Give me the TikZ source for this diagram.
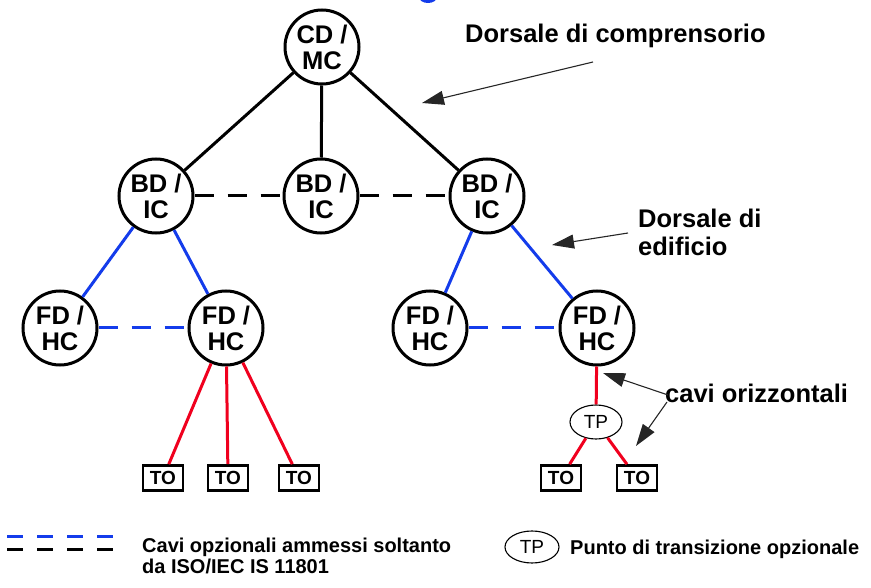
\documentclass[tikz,border=0pt]{standalone}
\usepackage{fontspec}
\setmainfont{Liberation Sans}
\usetikzlibrary{arrows.meta,shapes.geometric}
\definecolor{cblue}{RGB}{20,60,235}
\definecolor{cred}{RGB}{240,0,30}
\begin{document}
\begin{tikzpicture}[x=1pt,y=-1pt,
  bigtxt/.style={font=\fontsize{25.5}{26}\selectfont\bfseries},
  ndc/.style={circle,draw,line width=3pt,minimum size=74pt,inner sep=0pt,align=center,bigtxt},
  tobox/.style={rectangle,draw,line width=2.6pt,minimum width=40pt,minimum height=25pt,inner sep=0pt,font=\fontsize{19}{19}\selectfont\bfseries},
  tpell/.style={ellipse,draw,line width=1.1pt,minimum width=52pt,minimum height=34pt,inner sep=0pt,font=\fontsize{19}{19}\selectfont},
  bkline/.style={line width=3pt,black},
  blline/.style={line width=3pt,cblue},
  rdline/.style={line width=3pt,cred},
  dashpat/.style={dash pattern=on 19pt off 14pt},
  ann/.style={line width=1.1pt,black!85,-{Triangle[length=22pt,width=14pt]}},
  lbl/.style={inner sep=0pt,bigtxt},
  legtxt/.style={inner sep=0pt,font=\fontsize{20}{21}\selectfont\bfseries}
]
\useasboundingbox (0,0) rectangle (871,588);

% fragment of a title cut by the top edge
\fill[cblue] (428,-3) ellipse (9 and 6);

% nodes
\node[ndc] (cd) at (322,47) {CD /\\MC};
\node[ndc] (bd1) at (156,196) {BD /\\IC};
\node[ndc] (bd2) at (321,196) {BD /\\IC};
\node[ndc] (bd3) at (487,196) {BD /\\IC};
\node[ndc] (fd1) at (60,328) {FD /\\HC};
\node[ndc] (fd2) at (226,328) {FD /\\HC};
\node[ndc] (fd3) at (430,328) {FD /\\HC};
\node[ndc] (fd4) at (597,328) {FD /\\HC};
\node[tpell] (tp) at (596,422) {TP};
\node[tobox] (to1) at (163,478) {TO};
\node[tobox] (to2) at (228,478) {TO};
\node[tobox] (to3) at (299,478) {TO};
\node[tobox] (to4) at (561,478) {TO};
\node[tobox] (to5) at (637,478) {TO};

% campus backbone
\draw[bkline] (cd) -- (bd1);
\draw[bkline] (cd) -- (bd2);
\draw[bkline] (cd) -- (bd3);
\draw[bkline,dashpat] (bd1) -- (bd2);
\draw[bkline,dashpat] (bd2) -- (bd3);

% building backbone
\draw[blline] (bd1) -- (fd1);
\draw[blline] (bd1) -- (fd2);
\draw[blline] (bd3) -- (fd3);
\draw[blline] (bd3) -- (fd4);
\draw[blline,dashpat] (fd1) -- (fd2);
\draw[blline,dashpat] (fd3) -- (fd4);

% horizontal cables
\draw[rdline] (fd2) -- (to1);
\draw[rdline] (fd2) -- (to2);
\draw[rdline] (fd2) -- (to3);
\draw[rdline] (fd4) -- (tp);
\draw[rdline] (tp) -- (to4);
\draw[rdline] (tp) -- (to5);

% labels
\node[lbl,anchor=base west] (l1) at (465,43) {Dorsale di comprensorio};
\node[lbl,anchor=west,align=left,font=\fontsize{25.5}{28}\selectfont\bfseries] (l2) at (638,232) {Dorsale di\\edificio};
\node[lbl,anchor=base west] (l3) at (665,402) {cavi orizzontali};

% annotation arrows
\coordinate (a1s) at (593,62);
\coordinate (a1e) at (422,103);
\coordinate (a2s) at (628,233);
\coordinate (a2e) at (552,245);
\coordinate (a3s) at (668,395);
\coordinate (a3e) at (603,373);
\coordinate (a4s) at (667,402);
\coordinate (a4e) at (636,446);
\draw[ann] (a1s) -- (a1e);
\draw[ann] (a2s) -- (a2e);
\draw[ann] (a3s) -- (a3e);
\draw[ann] (a4s) -- (a4e);

% legend
\coordinate (lb1) at (7,536);
\coordinate (lb2) at (114,536);
\coordinate (lk1) at (7,549);
\coordinate (lk2) at (114,549);
\draw[line width=3pt,cblue,dash pattern=on 16pt off 14pt] (lb1) -- (lb2);
\draw[line width=3pt,black,dash pattern=on 16pt off 14pt] (lk1) -- (lk2);
\node[legtxt,anchor=west,align=left] (lg1) at (142,556) {Cavi opzionali ammessi soltanto\\da ISO/IEC IS 11801};
\node[tpell,minimum width=54pt,minimum height=32pt] (lgtp) at (532,547) {TP};
\node[legtxt,anchor=base west] (lg2) at (570,554) {Punto di transizione opzionale};
\end{tikzpicture}
\end{document}
